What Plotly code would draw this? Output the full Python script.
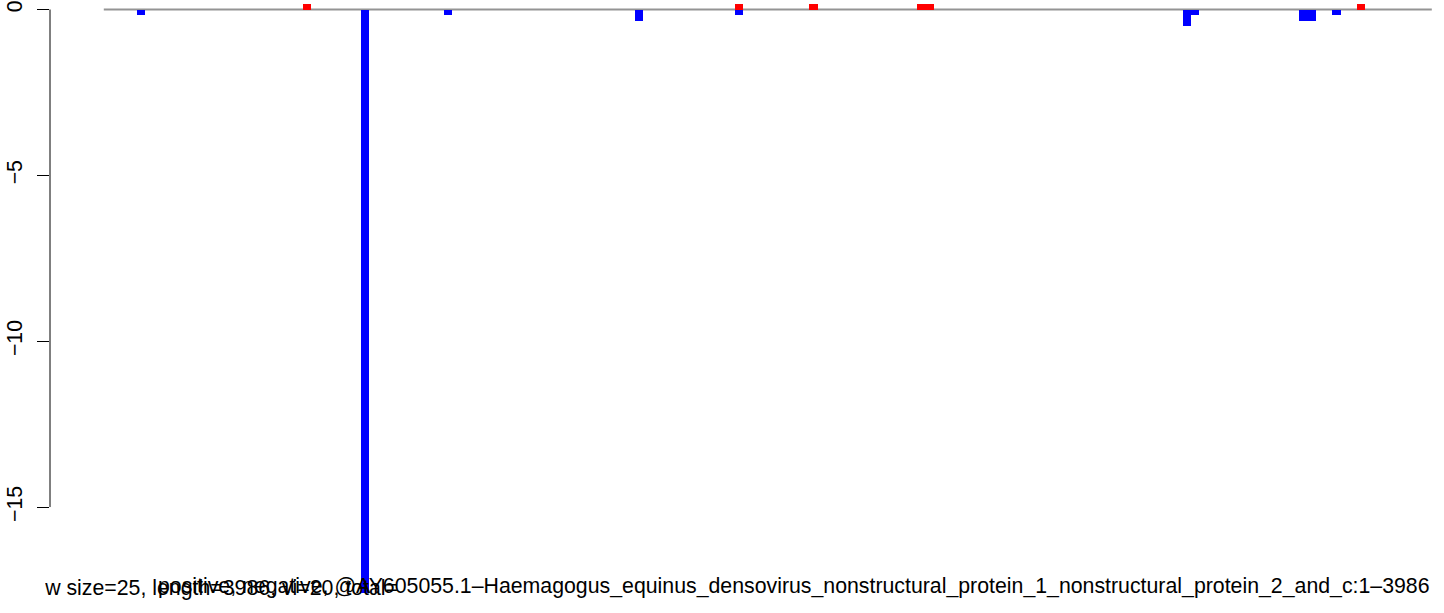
import plotly.graph_objects as go

# ---- data (window index, value) ----
window_size = 25
seq_length = 3986
pos_windows = [24, 76, 85, 98, 99, 151]
pos_values = [0.18, 0.18, 0.18, 0.18, 0.18, 0.18]
neg_windows = [4, 31, 41, 64, 76, 130, 131, 144, 145, 148]
neg_values = [-0.17, -17.6, -0.17, -0.34, -0.17, -0.51, -0.17, -0.34, -0.34, -0.17]
y_ticks = [0, -5, -10, -15]
y_tick_text = ["0", "\u22125", "\u221210", "\u221215"]
label_left = "window size=25, length=3986, vi=20, total="
label_right = ("positive, negative, @AY605055.1\u2013Haemagogus_equinus_densovirus_"
               "nonstructural_protein_1_nonstructural_protein_2_and_c:1\u20133986")

W, H = 1444, 613
FONT = "Liberation Sans, Arial, sans-serif"
FS = 21.3
L = 50          # left edge of plot area (px)
CLIP = 45       # left clip edge of the bottom-left caption (px)

def centers(ws):
    return [w * window_size + window_size / 2 for w in ws]

fig = go.Figure()
fig.add_trace(go.Bar(x=centers(pos_windows), y=pos_values, width=window_size,
                     marker=dict(color="#FF0000", line=dict(width=0)), showlegend=False,
                     hoverinfo="skip"))
fig.add_trace(go.Bar(x=centers(neg_windows), y=neg_values, width=window_size,
                     marker=dict(color="#0000FF", line=dict(width=0)), showlegend=False,
                     hoverinfo="skip"))

# clipped caption on an overlay subplot measured in pixels
caption_end_px = 398
fig.add_trace(go.Scatter(x=[caption_end_px - CLIP], y=[590], mode="text", text=[label_left],
                         textposition="middle left", cliponaxis=True,
                         textfont=dict(family=FONT, size=FS, color="black"),
                         xaxis="x2", yaxis="y2", showlegend=False, hoverinfo="skip"))

n_windows = 160
x_end = n_windows * window_size
px_per_nt = 8.3 / window_size
x_min = -(103.8 - L) / px_per_nt
x_max = (W - 103.8) / px_per_nt
px_per_unit = 33.17
y_max = 9.5 / px_per_unit
y_min = -(H - 9.5) / px_per_unit

fig.add_shape(type="line", x0=0, x1=x_end, y0=0, y1=0, xref="x", yref="y",
              line=dict(color="#949494", width=2), layer="below")
fig.add_shape(type="line", x0=L / W, x1=L / W, y0=min(y_ticks), y1=max(y_ticks), xref="paper", yref="y",
              line=dict(color="black", width=1))

fig.add_annotation(text=label_right, x=x_end, xref="x", xanchor="right",
                   y=1 - 586 / H, yref="paper", yanchor="middle", showarrow=False,
                   font=dict(family=FONT, size=FS, color="black"))

fig.update_layout(
    width=W, height=H,
    margin=dict(l=0, r=0, t=0, b=0),
    plot_bgcolor="rgba(0,0,0,0)", paper_bgcolor="white",
    barmode="overlay", bargap=0,
    xaxis=dict(domain=[L / W, 1], range=[x_min, x_max], visible=False, showgrid=False, zeroline=False),
    yaxis=dict(range=[y_min, y_max], tickvals=y_ticks, ticktext=y_tick_text,
               ticks="outside", ticklen=12, tickcolor="black", tickwidth=1,
               ticklabelstandoff=6,
               tickangle=-90, showgrid=False, zeroline=False, showline=False,
               tickfont=dict(family=FONT, size=FS, color="black")),
    xaxis2=dict(domain=[CLIP / W, 1], range=[0, W - CLIP], visible=False, anchor="y2",
                showgrid=False, zeroline=False),
    yaxis2=dict(domain=[0, 1], range=[H, 0], visible=False, anchor="x2",
                showgrid=False, zeroline=False),
)
fig.write_html("out.html", config={"displayModeBar": False},
               post_script="document.body.style.margin='0';document.body.style.overflow='hidden';")
